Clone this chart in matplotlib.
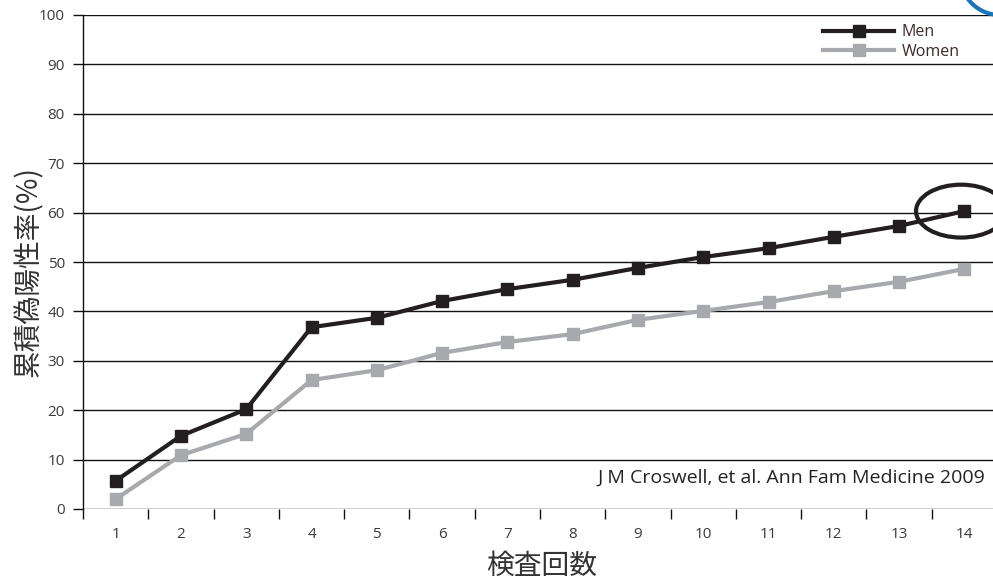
import matplotlib
matplotlib.use("Agg")
import matplotlib.pyplot as plt
from matplotlib.patches import Ellipse, Arc
from matplotlib.ticker import FixedLocator, NullFormatter, FixedFormatter

plt.rcParams['font.family'] = ['Noto Sans CJK JP', 'DejaVu Sans']

exams = list(range(1, 15))
men = [5.7, 14.8, 20.2, 36.8, 38.7, 42.1, 44.5, 46.4, 48.8, 51.0, 52.8, 55.1, 57.3, 60.3]
women = [2.0, 10.9, 15.2, 26.1, 28.1, 31.6, 33.8, 35.4, 38.3, 40.1, 41.9, 44.1, 46.0, 48.6]
y_ticks = [0, 10, 20, 30, 40, 50, 60, 70, 80, 90, 100]
x_label = "検査回数"
y_label = "累積偽陽性率(%)"
series_names = ["Men", "Women"]
citation = "J M Croswell, et al. Ann Fam Medicine 2009"

W, H = 993, 583
fig = plt.figure(figsize=(W / 100, H / 100), dpi=100)
ax = fig.add_axes([83 / W, (H - 509) / H, 914 / W, (509 - 15) / H])

latin = ["Open Sans", "DejaVu Sans"]
tick_color = "#3a3a3a"
men_color = "#231f20"
women_color = "#a7a9ac"

ax.plot(exams, women, color=women_color, lw=3, marker="s", ms=8.5, label=series_names[1], zorder=3)
ax.plot(exams, men, color=men_color, lw=3, marker="s", ms=8.5, label=series_names[0], zorder=4)

ax.set_xlim(0.5, 14.5)
ax.set_ylim(0, 100)

for y in y_ticks:
    ax.axhline(y, color="#111111", lw=1.0, zorder=1)

for s in ["top", "right", "bottom"]:
    ax.spines[s].set_visible(False)
ax.spines["left"].set_color("#111111")
ax.spines["left"].set_linewidth(1.0)

ax.set_yticks(y_ticks)
ax.set_yticklabels([str(v) for v in y_ticks], family=latin)
ax.tick_params(axis="y", length=7, width=1.0, color="#111111", pad=6,
               labelsize=11, labelcolor=tick_color)

ax.xaxis.set_major_locator(FixedLocator([i + 0.5 for i in range(0, 15)]))
ax.xaxis.set_major_formatter(NullFormatter())
ax.xaxis.set_minor_locator(FixedLocator(exams))
ax.xaxis.set_minor_formatter(FixedFormatter([str(e) for e in exams]))
ax.tick_params(axis="x", which="major", length=7, width=1.0, color="#111111")
ax.tick_params(axis="x", which="minor", length=0, pad=13, labelsize=11, labelcolor=tick_color)
for lbl in ax.get_xticklabels(minor=True):
    lbl.set_family(latin)

ax.set_xlabel(x_label, fontsize=20, color="#333333")
ax.set_ylabel(y_label, fontsize=20, color="#333333")
ax.yaxis.set_label_coords(-39 / 914, (509 - 271.5) / 494)
ax.xaxis.set_label_coords((542 - 83) / 914, -42 / 494)

ax.text(14.32, 6.3, citation, ha="right", va="center", fontsize=14,
        color="#222222", family=latin)

# circle highlighting the last point
ax.add_patch(Ellipse((13.95, 60.3), 1.38, 10.7, fill=False, lw=3, color=men_color, zorder=5, clip_on=False))

handles, labels = ax.get_legend_handles_labels()
leg = ax.legend(handles[::-1], labels[::-1], loc="upper right", bbox_to_anchor=(974 / W, 1 - 10 / H),
                bbox_transform=fig.transFigure, frameon=False, handlelength=4.4,
                prop={"family": latin, "size": 11.5},
                labelspacing=0.2, handletextpad=0.5)
for t in leg.get_texts():
    t.set_color("#3b2a2a")

# partial blue logo ring at top-right corner
fig.patches.append(Arc((1000 / W, 1 + 25 / H), 80 / W, 80 / H, transform=fig.transFigure,
                       color="#1b75bc", lw=3, figure=fig))

fig.savefig("out.png", dpi=100)
